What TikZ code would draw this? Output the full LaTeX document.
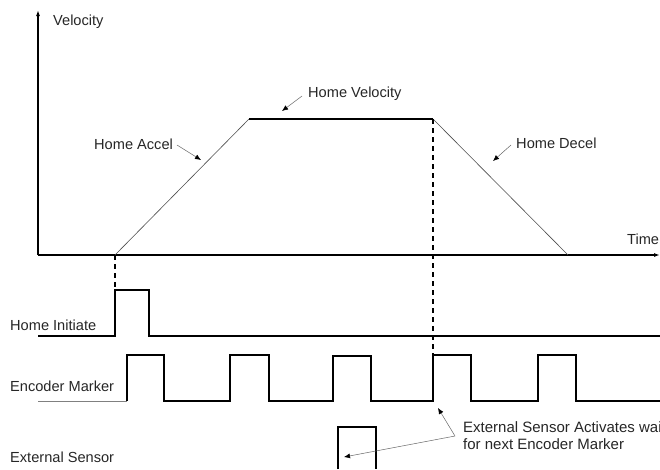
\documentclass[tikz,border=0pt]{standalone}
\usepackage{fontspec}
\setmainfont{Liberation Sans}
\usetikzlibrary{arrows.meta}
\begin{document}
\begin{tikzpicture}[x=1pt,y=-1pt,
  lbl/.style={font=\fontsize{14.6}{16}\selectfont, inner sep=0pt, anchor=west, text=black!85},
  wave/.style={line width=1.2pt, black},
  slope/.style={line width=0.6pt, black!70},
  dashline/.style={line width=1.2pt, dash pattern=on 5pt off 4pt},
  pointer/.style={line width=0.5pt, black!60, -{Latex[length=6pt,width=5pt,black]}},
  axis/.style={line width=1.2pt, -{Latex[length=6pt,width=4pt]}}]
\useasboundingbox (0,0) rectangle (660,469);
% axes
\coordinate (O) at (38,255);
\coordinate (ytop) at (38,10);
\coordinate (xend) at (660,255);
\draw[axis] (O) -- (ytop);
\draw[axis] (O) -- (xend);
\node[lbl] (vel) at (53,22) {Velocity};
\node[lbl] (time) at (627,239) {Time};
% profile
\coordinate (p0) at (115,255);
\coordinate (p1) at (249,119);
\coordinate (p2) at (433,119);
\coordinate (p3) at (568,255);
\draw[slope] (p0) -- (p1);
\draw[wave] (p1) -- (p2);
\draw[slope] (p2) -- (p3);
% dashed lines
\draw[dashline] (p0) -- (115,290);
\draw[dashline] (p2) -- (433,355);
% labels with pointers
\node[lbl] (acc) at (94,144) {Home Accel};
\draw[pointer] (177,145) -- (201,160);
\node[lbl] (hv) at (308,94) {Home Velocity};
\draw[pointer] (302,96) -- (282,111);
\node[lbl] (dec) at (516,143) {Home Decel};
\draw[pointer] (511,145) -- (493,161);
% Home Initiate
\node[lbl] (hi) at (10,325) {Home Initiate};
\draw[wave] (38,336) -- (115,336) -- (115,290) -- (149,290) -- (149,336) -- (660,336);
% Encoder Marker
\node[lbl] (em) at (10,386) {Encoder Marker};
\draw[line width=0.8pt, black!50] (38,401) -- (127,401);
\draw[wave] (127,401) -- (127,355) -- (164,355) -- (164,401)
  -- (230,401) -- (230,355) -- (269,355) -- (269,401)
  -- (333,401) -- (333,356) -- (371,356) -- (371,401)
  -- (433,401) -- (433,355) -- (471,355) -- (471,401)
  -- (538,401) -- (538,355) -- (576,355) -- (576,401) -- (660,401);
% External Sensor
\node[lbl] (es) at (10,457) {External Sensor};
\draw[wave] (338,469) -- (338,427) -- (376,427) -- (376,469);
% annotation
\node[lbl, align=left, anchor=north west, font=\fontsize{15}{17.5}\selectfont] (note) at (463,421) {External Sensor Activates wait\\for next Encoder Marker};
\coordinate (j) at (455,436);
\draw[pointer] (j) -- (438,408);
\draw[pointer] (j) -- (344,457);
\end{tikzpicture}
\end{document}
